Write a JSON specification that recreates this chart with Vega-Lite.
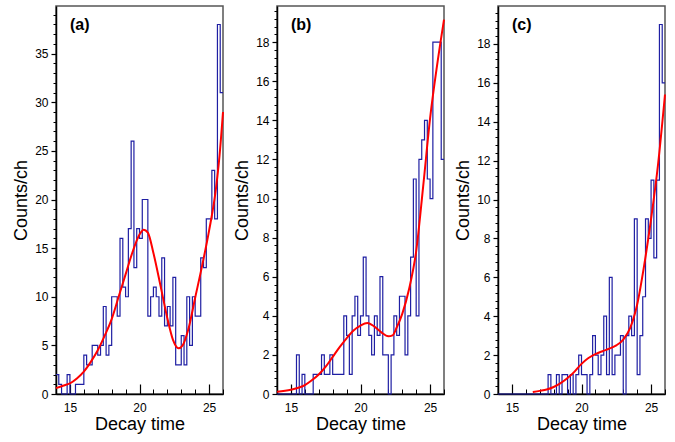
{
  "$schema": "https://vega.github.io/schema/vega-lite/v6.json",
  "padding": {"left": 11, "top": 5, "right": 5, "bottom": 5},
  "spacing": 54,
  "bounds": "flush",
  "config": {
    "font": "Liberation Sans",
    "view": {"stroke": "#555", "strokeWidth": 1.5},
    "axis": {"labelFont": "Liberation Sans", "labelFontSize": 12, "labelColor": "#000", "titleFont": "Liberation Sans", "titleFontSize": 18, "titleFontWeight": "normal", "titleColor": "#000", "domainColor": "#000", "tickColor": "#000", "grid": false},
    "title": {"font": "Liberation Sans", "fontSize": 16, "fontWeight": "bold", "color": "#000"}
  },
  "datasets": {
    "hist": [
      {"t":14,"a":2,"b":0,"c":0},{"t":14.2,"a":1,"b":0,"c":0},{"t":14.4,"a":0,"b":0,"c":0},{"t":14.6,"a":0,"b":0,"c":0},{"t":14.8,"a":2,"b":0,"c":0},
      {"t":15,"a":0,"b":0,"c":0},{"t":15.2,"a":0,"b":0,"c":0},{"t":15.4,"a":1,"b":2,"c":0},{"t":15.6,"a":1,"b":0,"c":0},{"t":15.8,"a":1,"b":1,"c":0},
      {"t":16,"a":4,"b":0,"c":0},{"t":16.2,"a":3,"b":0,"c":0},{"t":16.4,"a":3,"b":0,"c":0},{"t":16.6,"a":5,"b":1,"c":0},{"t":16.8,"a":5,"b":1,"c":0},
      {"t":17,"a":4,"b":1,"c":0},{"t":17.2,"a":5,"b":2,"c":0},{"t":17.4,"a":9,"b":1,"c":0},{"t":17.6,"a":4,"b":1,"c":1},{"t":17.8,"a":5,"b":2,"c":0},
      {"t":18,"a":10,"b":1,"c":0},{"t":18.2,"a":10,"b":1,"c":1},{"t":18.4,"a":8,"b":1,"c":0},{"t":18.6,"a":16,"b":1,"c":1},{"t":18.8,"a":11,"b":4,"c":1},
      {"t":19,"a":10,"b":3,"c":0},{"t":19.2,"a":17,"b":1,"c":1},{"t":19.4,"a":26,"b":4,"c":0},{"t":19.6,"a":13,"b":5,"c":1},{"t":19.8,"a":17,"b":3,"c":2},
      {"t":20,"a":16,"b":4,"c":1},{"t":20.2,"a":20,"b":7,"c":1},{"t":20.4,"a":20,"b":4,"c":0},{"t":20.6,"a":8,"b":3,"c":1},{"t":20.8,"a":10,"b":2,"c":3},
      {"t":21,"a":11,"b":4,"c":2},{"t":21.2,"a":10,"b":3,"c":1},{"t":21.4,"a":8,"b":6,"c":2},{"t":21.6,"a":14,"b":2,"c":4},{"t":21.8,"a":7,"b":2,"c":1},
      {"t":22,"a":9,"b":0,"c":6},{"t":22.2,"a":7,"b":2,"c":1},{"t":22.4,"a":12,"b":4,"c":2},{"t":22.6,"a":3,"b":3,"c":2},{"t":22.8,"a":3,"b":5,"c":3},
      {"t":23,"a":6,"b":5,"c":0},{"t":23.2,"a":3,"b":2,"c":3},{"t":23.4,"a":10,"b":4,"c":4},{"t":23.6,"a":5,"b":7,"c":3},{"t":23.8,"a":10,"b":11,"c":9},
      {"t":24,"a":8,"b":4,"c":1},{"t":24.2,"a":8,"b":12,"c":3},{"t":24.4,"a":14,"b":13,"c":5},{"t":24.6,"a":13,"b":14,"c":9},{"t":24.8,"a":18,"b":11,"c":8},
      {"t":25,"a":18,"b":10,"c":11},{"t":25.2,"a":23,"b":18,"c":7},{"t":25.4,"a":18,"b":18,"c":11},{"t":25.6,"a":38,"b":18,"c":19},{"t":25.8,"a":31,"b":12,"c":16},
      {"t":26,"a":31,"b":12,"c":16}
    ],
    "fa": [
      {"t":14,"n":0.6},{"t":14.5,"n":0.85},{"t":15,"n":1.1},{"t":15.5,"n":1.6},{"t":16,"n":2.3},{"t":16.5,"n":3.3},{"t":17,"n":4.5},{"t":17.5,"n":6.0},{"t":18,"n":7.7},{"t":18.5,"n":10.0},{"t":19,"n":12.3},{"t":19.5,"n":14.6},{"t":20,"n":16.4},{"t":20.3,"n":16.9},{"t":20.6,"n":16.6},{"t":21,"n":14.5},{"t":21.5,"n":11.2},{"t":22,"n":7.8},{"t":22.4,"n":5.6},{"t":22.8,"n":4.7},{"t":23.1,"n":5.0},{"t":23.5,"n":6.6},{"t":24,"n":9.9},{"t":24.5,"n":13.2},{"t":25,"n":16.8},{"t":25.5,"n":21.2},{"t":25.75,"n":24.5},{"t":26,"n":29}
    ],
    "fb": [
      {"t":14,"n":0.12},{"t":15,"n":0.22},{"t":16,"n":0.45},{"t":16.5,"n":0.7},{"t":17,"n":1.0},{"t":17.5,"n":1.4},{"t":18,"n":1.9},{"t":18.5,"n":2.4},{"t":19,"n":2.85},{"t":19.5,"n":3.25},{"t":20,"n":3.5},{"t":20.5,"n":3.63},{"t":21,"n":3.45},{"t":21.5,"n":3.15},{"t":22,"n":2.95},{"t":22.3,"n":3.0},{"t":22.6,"n":3.4},{"t":23,"n":4.1},{"t":23.5,"n":5.4},{"t":24,"n":7.3},{"t":24.5,"n":10.6},{"t":25,"n":14.1},{"t":25.5,"n":16.8},{"t":26,"n":19.15}
    ],
    "fc": [
      {"t":16.5,"n":0.1},{"t":17,"n":0.16},{"t":17.5,"n":0.23},{"t":18,"n":0.36},{"t":18.5,"n":0.56},{"t":19,"n":0.82},{"t":19.5,"n":1.15},{"t":20,"n":1.55},{"t":20.5,"n":1.85},{"t":21,"n":2.05},{"t":21.5,"n":2.2},{"t":22,"n":2.33},{"t":22.5,"n":2.5},{"t":23,"n":2.8},{"t":23.5,"n":3.4},{"t":24,"n":4.6},{"t":24.5,"n":6.6},{"t":25,"n":9.0},{"t":25.5,"n":11.8},{"t":26,"n":15.4}
    ]
  },
  "hconcat": [
    {
      "width": 167, "height": 388,
      "title": {"text": "(a)", "anchor": "start", "frame": "group", "baseline": "top", "offset": -27, "dx": 14},
      "resolve": {"axis": {"x": "independent", "y": "independent"}},
      "layer": [
        {
          "data": {"name": "hist"},
          "mark": {"type": "line", "interpolate": "step-after", "color": "#1f1fa3", "strokeWidth": 1.2},
          "encoding": {
            "x": {"field": "t", "type": "quantitative", "scale": {"domain": [14, 26], "nice": false, "zero": false},
                  "axis": {"orient": "bottom", "values": [15, 20, 25], "tickSize": -10, "labelPadding": 18, "title": "Decay time", "titlePadding": 2, "domainWidth": 1.5, "tickWidth": 1.2}},
            "y": {"field": "a", "type": "quantitative", "scale": {"domain": [0, 39.9], "nice": false},
                  "axis": {"orient": "left", "values": [0, 5, 10, 15, 20, 25, 30, 35], "tickSize": 5, "labelPadding": 3, "title": "Counts/ch", "titlePadding": 4, "domainWidth": 1.5, "tickWidth": 1.2}}
          }
        },
        {
          "data": {"name": "fa"},
          "mark": {"type": "line", "interpolate": "monotone", "color": "#ff0000", "strokeWidth": 2},
          "encoding": {
            "x": {"field": "t", "type": "quantitative", "axis": {"orient": "bottom", "values": [14,15,16,17,18,19,20,21,22,23,24,25,26], "tickSize": -5, "labels": false, "domain": false, "title": null}},
            "y": {"field": "n", "type": "quantitative", "axis": {"orient": "left", "values": [0,1,2,3,4,5,6,7,8,9,10,11,12,13,14,15,16,17,18,19,20,21,22,23,24,25,26,27,28,29,30,31,32,33,34,35,36,37,38,39], "tickSize": 3, "labels": false, "domain": false, "title": null}}
          }
        }
      ]
    },
    {
      "width": 167, "height": 388,
      "title": {"text": "(b)", "anchor": "start", "frame": "group", "baseline": "top", "offset": -27, "dx": 14},
      "resolve": {"axis": {"x": "independent", "y": "independent"}},
      "layer": [
        {
          "data": {"name": "hist"},
          "mark": {"type": "line", "interpolate": "step-after", "color": "#1f1fa3", "strokeWidth": 1.2},
          "encoding": {
            "x": {"field": "t", "type": "quantitative", "scale": {"domain": [14, 26], "nice": false, "zero": false},
                  "axis": {"orient": "bottom", "values": [15, 20, 25], "tickSize": -10, "labelPadding": 18, "title": "Decay time", "titlePadding": 2, "domainWidth": 1.5, "tickWidth": 1.2}},
            "y": {"field": "b", "type": "quantitative", "scale": {"domain": [0, 19.85], "nice": false},
                  "axis": {"orient": "left", "values": [0, 2, 4, 6, 8, 10, 12, 14, 16, 18], "tickSize": 5, "labelPadding": 3, "title": "Counts/ch", "titlePadding": 4, "domainWidth": 1.5, "tickWidth": 1.2}}
          }
        },
        {
          "data": {"name": "fb"},
          "mark": {"type": "line", "interpolate": "monotone", "color": "#ff0000", "strokeWidth": 2},
          "encoding": {
            "x": {"field": "t", "type": "quantitative", "axis": {"orient": "bottom", "values": [14,15,16,17,18,19,20,21,22,23,24,25,26], "tickSize": -5, "labels": false, "domain": false, "title": null}},
            "y": {"field": "n", "type": "quantitative", "axis": {"orient": "left", "values": [0,0.4,0.8,1.2,1.6,2,2.4,2.8,3.2,3.6,4,4.4,4.8,5.2,5.6,6,6.4,6.8,7.2,7.6,8,8.4,8.8,9.2,9.6,10,10.4,10.8,11.2,11.6,12,12.4,12.8,13.2,13.6,14,14.4,14.8,15.2,15.6,16,16.4,16.8,17.2,17.6,18,18.4,18.8,19.2,19.6], "tickSize": 3, "labels": false, "domain": false, "title": null}}
          }
        }
      ]
    },
    {
      "width": 167, "height": 388,
      "title": {"text": "(c)", "anchor": "start", "frame": "group", "baseline": "top", "offset": -27, "dx": 14},
      "resolve": {"axis": {"x": "independent", "y": "independent"}},
      "layer": [
        {
          "data": {"name": "hist"},
          "mark": {"type": "line", "interpolate": "step-after", "color": "#1f1fa3", "strokeWidth": 1.2},
          "encoding": {
            "x": {"field": "t", "type": "quantitative", "scale": {"domain": [14, 26], "nice": false, "zero": false},
                  "axis": {"orient": "bottom", "values": [15, 20, 25], "tickSize": -10, "labelPadding": 18, "title": "Decay time", "titlePadding": 2, "domainWidth": 1.5, "tickWidth": 1.2}},
            "y": {"field": "c", "type": "quantitative", "scale": {"domain": [0, 19.95], "nice": false},
                  "axis": {"orient": "left", "values": [0, 2, 4, 6, 8, 10, 12, 14, 16, 18], "tickSize": 5, "labelPadding": 3, "title": "Counts/ch", "titlePadding": 4, "domainWidth": 1.5, "tickWidth": 1.2}}
          }
        },
        {
          "data": {"name": "fc"},
          "mark": {"type": "line", "interpolate": "monotone", "color": "#ff0000", "strokeWidth": 2},
          "encoding": {
            "x": {"field": "t", "type": "quantitative", "axis": {"orient": "bottom", "values": [14,15,16,17,18,19,20,21,22,23,24,25,26], "tickSize": -5, "labels": false, "domain": false, "title": null}},
            "y": {"field": "n", "type": "quantitative", "axis": {"orient": "left", "values": [0,0.4,0.8,1.2,1.6,2,2.4,2.8,3.2,3.6,4,4.4,4.8,5.2,5.6,6,6.4,6.8,7.2,7.6,8,8.4,8.8,9.2,9.6,10,10.4,10.8,11.2,11.6,12,12.4,12.8,13.2,13.6,14,14.4,14.8,15.2,15.6,16,16.4,16.8,17.2,17.6,18,18.4,18.8,19.2,19.6], "tickSize": 3, "labels": false, "domain": false, "title": null}}
          }
        }
      ]
    }
  ]
}
